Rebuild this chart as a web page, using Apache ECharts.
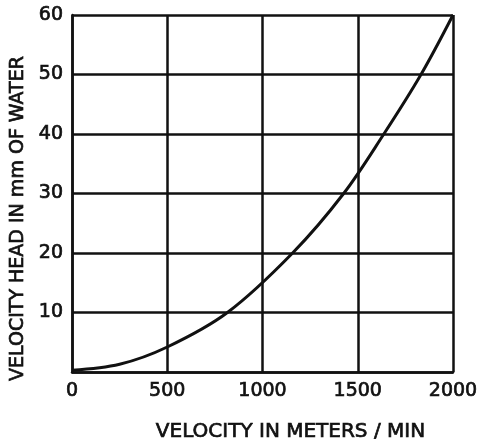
<!DOCTYPE html>
<html>
<head>
<meta charset="utf-8">
<script src="https://cdn.jsdelivr.net/npm/echarts@6/dist/echarts.min.js"></script>
<style>
  html, body { margin: 0; padding: 0; background: #fff; }
  #chart { width: 492px; height: 439px; }
</style>
</head>
<body>
<div id="chart"></div>
<script>
// velocity (m/min) vs velocity head (mm of water)
const velocity = [0, 250, 500, 816, 1158, 1426, 1637, 1832, 2000];
const head     = [0.3, 1.3, 4.2, 10, 20, 30, 40, 50, 60];
const xTicks = [0, 500, 1000, 1500, 2000];
const yTicks = [10, 20, 30, 40, 50, 60];

var ink = '#111';
var font = 'DejaVu Sans';
// thicken the strokes a little, the lettering in the scan is heavy
var heavy = { textBorderColor: ink, textBorderWidth: 0.7 };

var chart = echarts.init(document.getElementById('chart'));
chart.setOption({
  backgroundColor: '#fff',
  animation: false,
  grid: { left: 72, right: 39, top: 15, bottom: 67, outerBoundsMode: 'none', containLabel: false },
  xAxis: {
    type: 'value',
    min: 0, max: 2000, interval: 500,
    name: 'VELOCITY IN METERS / MIN',
    nameLocation: 'middle',
    nameGap: 50,
    nameTextStyle: Object.assign({ color: ink, fontFamily: font, fontSize: 20, padding: [0, 0, 0, 56] }, heavy),
    axisLine: { lineStyle: { color: ink, width: 2.5 } },
    axisTick: { show: false },
    axisLabel: Object.assign({
      color: ink, fontFamily: font, fontSize: 19, margin: 10,
      formatter: function (v) { return xTicks.indexOf(v) >= 0 ? String(v) : ''; }
    }, heavy),
    splitLine: { show: true, lineStyle: { color: ink, width: 2.5 } }
  },
  yAxis: {
    type: 'value',
    min: 0, max: 60, interval: 10,
    name: 'VELOCITY HEAD IN mm OF WATER',
    nameLocation: 'middle',
    nameGap: 44,
    nameTextStyle: Object.assign({ color: ink, fontFamily: font, fontSize: 19, padding: [0, 50, 0, 0] }, heavy),
    axisLine: { show: true, lineStyle: { color: ink, width: 2.5 } },
    axisTick: { show: false },
    axisLabel: Object.assign({
      color: ink, fontFamily: font, fontSize: 19, margin: 9,
      formatter: function (v) { return yTicks.indexOf(v) >= 0 ? String(v) : ''; }
    }, heavy),
    splitLine: { show: true, lineStyle: { color: ink, width: 2.5 } }
  },
  series: [{
    type: 'line',
    data: velocity.map(function (v, i) { return [v, head[i]]; }),
    smooth: 0.35,
    showSymbol: false,
    lineStyle: { color: ink, width: 3 }
  }]
});
</script>
</body>
</html>
